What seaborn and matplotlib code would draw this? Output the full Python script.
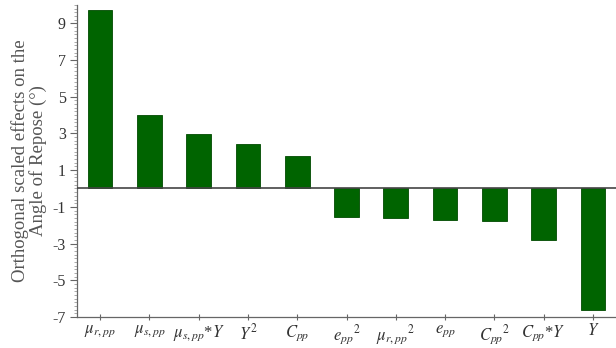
import matplotlib
matplotlib.use("Agg")
import matplotlib.pyplot as plt
from matplotlib.ticker import MultipleLocator, FixedLocator
import seaborn as sns
import pandas as pd

# Factor labels (mathtext) and their orthogonal scaled effects
factors = [
    r"$\mu_{r,pp}$", r"$\mu_{s,pp}$", r"$\mu_{s,pp}$*$Y$", r"$Y^2$", r"$C_{pp}$",
    r"$e_{pp}{}^2$", r"$\mu_{r,pp}{}^2$", r"$e_{pp}$", r"$C_{pp}{}^2$",
    r"$C_{pp}$*$Y$", r"$Y$",
]
effects = [9.73, 4.0, 2.98, 2.43, 1.77, -1.54, -1.59, -1.72, -1.76, -2.81, -6.62]
y_ticks = [-7, -5, -3, -1, 1, 3, 5, 7, 9]

df = pd.DataFrame({"factor": factors, "effect": effects})

sns.set_style("white")
plt.rcParams["font.family"] = ["Liberation Serif", "DejaVu Serif"]
plt.rcParams["mathtext.fontset"] = "stix"

fig = plt.figure(figsize=(6.16, 3.48), dpi=100)
ax = fig.add_axes([0.125, 0.089, 0.875, 0.897])

sns.barplot(data=df, x="factor", y="effect", color="#006400",
            saturation=1, width=0.5, edgecolor="#004a00", linewidth=0.6, ax=ax)

ax.axhline(0, color="#444444", linewidth=1.2, zorder=3)

ax.set_xlim(-0.47, 10.47)
ax.set_ylim(-7, 10)
ax.yaxis.set_major_locator(FixedLocator(y_ticks))
ax.yaxis.set_minor_locator(MultipleLocator(0.2))
ax.set_yticklabels([str(t) for t in y_ticks])

for side in ("top", "right"):
    ax.spines[side].set_visible(False)
for side in ("left", "bottom"):
    ax.spines[side].set_color("#666666")
    ax.spines[side].set_linewidth(0.9)

ax.tick_params(axis="y", which="major", direction="out", length=5, width=0.8,
               color="#666666", labelsize=11.5, labelcolor="#333333", pad=3, left=True)
ax.tick_params(axis="y", which="minor", direction="out", length=2.5, width=0.5,
               color="#888888", left=True)
ax.tick_params(axis="x", which="major", direction="inout", length=5, width=0.8,
               color="#666666", labelsize=12, labelcolor="#333333", pad=2, bottom=True)

ax.set_xlabel("")
ax.set_ylabel("Orthogonal scaled effects on the\nAngle of Repose (°)",
              fontsize=13.5, color="#555555", labelpad=4, linespacing=1.0)

fig.savefig("out.png", dpi=100)
